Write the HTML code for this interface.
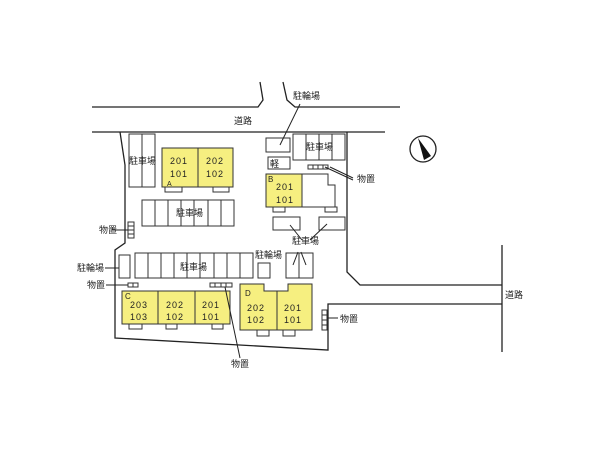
<!DOCTYPE html>
<html><head><meta charset="utf-8"><style>
body{margin:0;background:#fff;}
svg{display:block}
text{font-family:"Liberation Sans","Noto Sans CJK JP",sans-serif;font-size:9px;fill:#222}
.n{font-size:10px;letter-spacing:1px}
</style></head><body>
<svg width="600" height="450" viewBox="0 0 600 450" xmlns="http://www.w3.org/2000/svg">
<g fill="none" stroke="#222" stroke-width="1.3">
<polyline points="92,107 258,107 263,100 260,82"/>
<polyline points="283,82 287,100 295,107 400,107"/>
<line x1="92" y1="132" x2="385" y2="132"/>
<polyline points="120,132 125,165 125,243 115,250 115,338 328,350 328,304 502,304"/>
<polyline points="347,132 347,272 360,285 502,285"/>
<line x1="502" y1="245" x2="502" y2="352"/>
<circle cx="423" cy="149" r="13"/>
</g>
<polygon points="418,138 431,156 424,160" fill="#111"/>
<g stroke="#333" stroke-width="1" fill="#fff">
<!-- left parking -->
<rect x="129" y="134" width="26" height="53"/><line x1="142" y1="134" x2="142" y2="187"/>
<!-- row below A -->
<rect x="142" y="200" width="92" height="26"/>
<line x1="155" y1="200" x2="155" y2="226"/><line x1="168" y1="200" x2="168" y2="226"/><line x1="181" y1="200" x2="181" y2="226"/><line x1="194" y1="200" x2="194" y2="226"/><line x1="208" y1="200" x2="208" y2="226"/><line x1="221" y1="200" x2="221" y2="226"/>
<!-- top right -->
<rect x="266" y="138" width="24" height="14"/>
<rect x="268" y="157" width="22" height="12"/>
<rect x="293" y="134" width="52" height="26"/>
<line x1="306" y1="134" x2="306" y2="160"/><line x1="319" y1="134" x2="319" y2="160"/><line x1="332" y1="134" x2="332" y2="160"/>
<rect x="308" y="165" width="5" height="4"/><rect x="313" y="165" width="5" height="4"/><rect x="318" y="165" width="5" height="4"/><rect x="323" y="165" width="5" height="4"/>
<polygon points="302,174 328,174 328,185 335,185 335,207 302,207"/>
<rect x="273" y="207" width="12" height="5"/><rect x="325" y="207" width="12" height="5"/>
<rect x="273" y="217" width="27" height="13"/><rect x="319" y="217" width="26" height="13"/>
<!-- left 物置 -->
<rect x="128" y="222" width="6" height="4"/><rect x="128" y="226" width="6" height="4"/><rect x="128" y="230" width="6" height="4"/><rect x="128" y="234" width="6" height="4"/>
<!-- middle row -->
<rect x="119" y="255" width="11" height="23"/>
<rect x="135" y="253" width="118" height="25"/>
<line x1="148" y1="253" x2="148" y2="278"/><line x1="161" y1="253" x2="161" y2="278"/><line x1="174" y1="253" x2="174" y2="278"/><line x1="187" y1="253" x2="187" y2="278"/><line x1="200" y1="253" x2="200" y2="278"/><line x1="214" y1="253" x2="214" y2="278"/><line x1="227" y1="253" x2="227" y2="278"/><line x1="240" y1="253" x2="240" y2="278"/>
<rect x="258" y="263" width="12" height="15"/>
<rect x="286" y="253" width="27" height="25"/><line x1="299" y1="253" x2="299" y2="278"/>
<rect x="128" y="283" width="5" height="4"/><rect x="133" y="283" width="5" height="4"/>
<rect x="210" y="283" width="5" height="4"/><rect x="215" y="283" width="6" height="4"/><rect x="221" y="283" width="5" height="4"/><rect x="226" y="283" width="6" height="4"/>
<rect x="322" y="310" width="5" height="5"/><rect x="322" y="315" width="5" height="5"/><rect x="322" y="320" width="5" height="5"/><rect x="322" y="325" width="5" height="5"/>
<!-- tabs -->
<rect x="165" y="187" width="17" height="5"/><rect x="213" y="187" width="16" height="5"/>
<rect x="129" y="324" width="13" height="5"/><rect x="166" y="324" width="11" height="5"/><rect x="212" y="324" width="11" height="5"/>
<rect x="257" y="330" width="12" height="6"/><rect x="283" y="330" width="12" height="6"/>
</g>
<g stroke="#333" stroke-width="1" fill="#f6ef80">
<rect x="162" y="148" width="36" height="39"/><rect x="198" y="148" width="35" height="39"/>
<rect x="266" y="174" width="36" height="33"/>
<rect x="122" y="291" width="36" height="33"/><rect x="158" y="291" width="37" height="33"/><rect x="195" y="291" width="35" height="33"/>
<polygon points="240,284 264,284 264,291 288,291 288,284 312,284 312,330 240,330"/>
<line x1="277" y1="291" x2="277" y2="330"/>
</g>
<g stroke="#222" stroke-width="1" fill="none">
<line x1="300" y1="104" x2="280" y2="145"/>
<line x1="325" y1="167" x2="353" y2="180"/><line x1="330" y1="167" x2="353" y2="178"/>
<line x1="290" y1="225" x2="302" y2="240"/><line x1="327" y1="224" x2="310" y2="240"/>
<line x1="298" y1="252" x2="293" y2="265"/><line x1="301" y1="252" x2="306" y2="265"/>
<line x1="112" y1="230" x2="128" y2="230"/>
<line x1="105" y1="268" x2="119" y2="268"/>
<line x1="106" y1="285" x2="128" y2="285"/>
<line x1="225" y1="287" x2="240" y2="358"/>
<line x1="327" y1="318" x2="338" y2="318"/>
</g>
<text x="293" y="99">駐輪場</text>
<text x="234" y="124">道路</text>
<text x="129" y="164">駐車場</text>
<text x="306" y="150">駐車場</text>
<text x="357" y="182">物置</text>
<text x="270" y="167">軽</text>
<text x="176" y="216">駐車場</text>
<text x="99" y="233">物置</text>
<text x="292" y="244">駐車場</text>
<text x="255" y="258">駐輪場</text>
<text x="180" y="270">駐車場</text>
<text x="77" y="271">駐輪場</text>
<text x="87" y="288">物置</text>
<text x="505" y="298">道路</text>
<text x="340" y="322">物置</text>
<text x="231" y="367">物置</text>
<g class="n">
<text x="170" y="164">201</text><text x="170" y="177">101</text>
<text x="206" y="164">202</text><text x="206" y="177">102</text>
<text x="276" y="190">201</text><text x="276" y="203">101</text>
<text x="130" y="308">203</text><text x="130" y="320">103</text>
<text x="166" y="308">202</text><text x="166" y="320">102</text>
<text x="202" y="308">201</text><text x="202" y="320">101</text>
<text x="247" y="311">202</text><text x="247" y="323">102</text>
<text x="284" y="311">201</text><text x="284" y="323">101</text>
</g>
<text x="167" y="186" style="font-size:7px">A</text>
<text x="268" y="182" style="font-size:8px">B</text>
<text x="125" y="299" style="font-size:8px">C</text>
<text x="245" y="296" style="font-size:8px">D</text>
</svg>
</body></html>
